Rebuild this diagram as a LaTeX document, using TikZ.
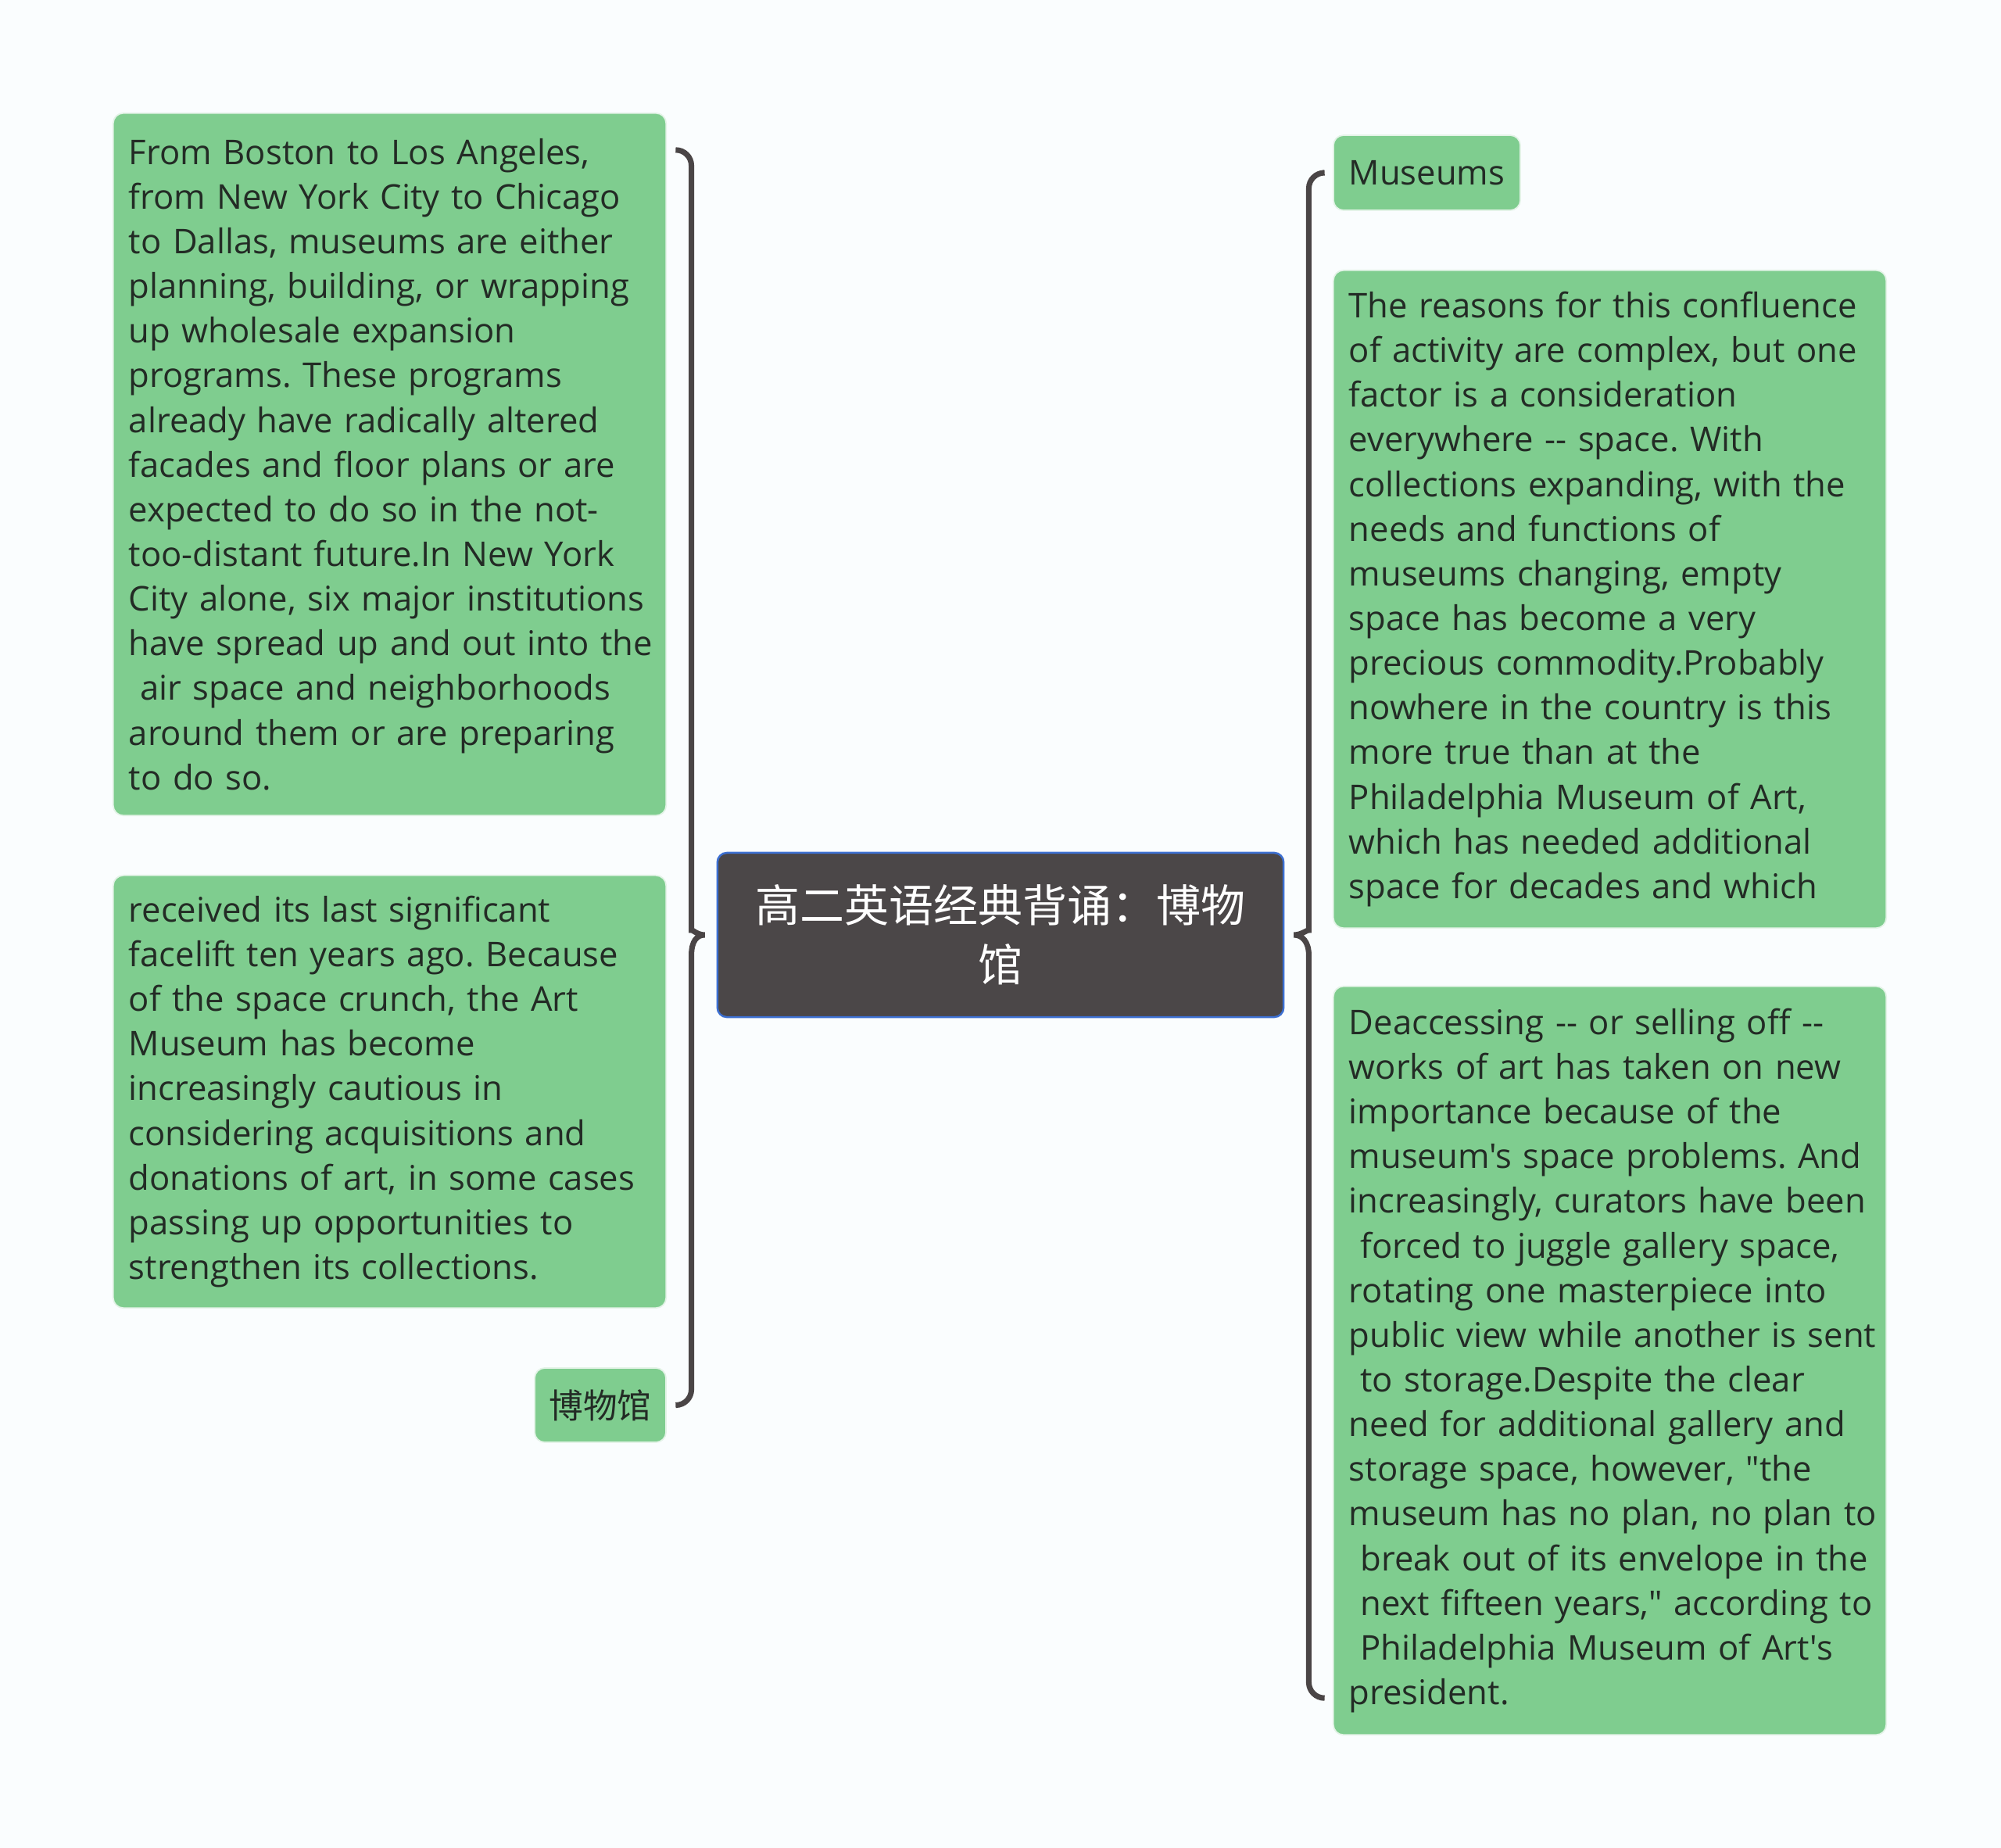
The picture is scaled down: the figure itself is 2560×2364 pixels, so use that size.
\documentclass[tikz,border=0pt]{standalone}
\usepackage{fontspec}
\setmainfont{Open Sans}[Ligatures=TeXOff]
\newfontfamily\cjk{Noto Sans CJK SC}
\usetikzlibrary{calc}
\definecolor{bg}{HTML}{FAFDFE}
\definecolor{boxgreen}{HTML}{7FCD8F}
\definecolor{boxedge}{HTML}{E3F3E7}
\definecolor{txt}{HTML}{232B25}
\definecolor{centerfill}{HTML}{4B4748}
\definecolor{centeredge}{HTML}{3C6FD1}
\definecolor{bracecol}{HTML}{4A4546}
\newcommand\dq{\symbol{34}}
\newcommand\sq{\symbol{39}}
\frenchspacing
\tikzset{
  gbox/.style={rectangle, rounded corners=0.13cm, fill=boxgreen, draw=boxedge, line width=0.5pt,
    text=txt, inner xsep=0.2cm, inner ysep=0pt, align=left,
    font=\fontsize{12.4pt}{16.25pt}\selectfont\frenchspacing},
  bigbox/.style={gbox, text width=6.67cm, minimum width=7.07cm},
  smallbox/.style={gbox, align=center, inner xsep=0pt},
  centerbox/.style={rectangle, rounded corners=0.12cm, fill=centerfill, draw=centeredge, line width=0.7pt,
    text=white, align=center, inner sep=0pt,
    font=\cjk\fontsize{16.2pt}{21.6pt}\selectfont},
  bracelink/.style={draw=bracecol, line width=2pt}
}
\begin{document}
\begin{tikzpicture}[x=0.01cm, y=-0.01cm]
\fill[bg] (0,0) rectangle (2560,2364);
\useasboundingbox (0,0) rectangle (2560,2364);

% center
\node[centerbox, minimum width=7.24cm, minimum height=2.10cm] (C) at (1280,1196)
  {高二英语经典背诵：博物\\馆};

% left column
\node[bigbox, minimum height=8.98cm] (L1) at (498.5,594) {%
\mbox{From Boston to Los Angeles,}\\
\mbox{from New York City to Chicago}\\
\mbox{to Dallas, museums are either}\\
\mbox{planning, building, or wrapping}\\
\mbox{up wholesale expansion}\\
\mbox{programs. These programs}\\
\mbox{already have radically altered}\\
\mbox{facades and floor plans or are}\\
\mbox{expected to do so in the not-}\\
\mbox{too-distant future.In New York}\\
\mbox{City alone, six major institutions}\\
\mbox{have spread up and out into the}\\
\mbox{\ air space and neighborhoods}\\
\mbox{around them or are preparing}\\
\mbox{to do so.}};

\node[bigbox, minimum height=5.53cm] (L2) at (498.5,1396.5) {%
\mbox{received its last significant}\\
\mbox{facelift ten years ago. Because}\\
\mbox{of the space crunch, the Art}\\
\mbox{Museum has become}\\
\mbox{increasingly cautious in}\\
\mbox{considering acquisitions and}\\
\mbox{donations of art, in some cases}\\
\mbox{passing up opportunities to}\\
\mbox{strengthen its collections.}};

\node[smallbox, minimum width=1.68cm, minimum height=0.95cm, font=\cjk\fontsize{12.4pt}{16.25pt}\selectfont] (L3) at (768,1797.5) {博物馆};

% right column
\node[smallbox, minimum width=2.39cm, minimum height=0.96cm] (R1) at (1825.5,221) {Museums};

\node[bigbox, minimum height=8.41cm] (R2) at (2059.5,766.5) {%
\mbox{The reasons for this confluence}\\
\mbox{of activity are complex, but one}\\
\mbox{factor is a consideration}\\
\mbox{everywhere -- space. With}\\
\mbox{collections expanding, with the}\\
\mbox{needs and functions of}\\
\mbox{museums changing, empty}\\
\mbox{space has become a very}\\
\mbox{precious commodity.Probably}\\
\mbox{nowhere in the country is this}\\
\mbox{more true than at the}\\
\mbox{Philadelphia Museum of Art,}\\
\mbox{which has needed additional}\\
\mbox{space for decades and which}};

\node[bigbox, minimum height=9.57cm] (R3) at (2059.5,1740.5) {%
\mbox{Deaccessing -- or selling off --}\\
\mbox{works of art has taken on new}\\
\mbox{importance because of the}\\
\mbox{museum\sq s space problems. And}\\
\mbox{increasingly, curators have been}\\
\mbox{\ forced to juggle gallery space,}\\
\mbox{rotating one masterpiece into}\\
\mbox{public view while another is sent}\\
\mbox{\ to storage.Despite the clear}\\
\mbox{need for additional gallery and}\\
\mbox{storage space, however, \dq the}\\
\mbox{museum has no plan, no plan to}\\
\mbox{\ break out of its envelope in the}\\
\mbox{\ next fifteen years,\dq\ according to}\\
\mbox{\ Philadelphia Museum of Art\sq s}\\
\mbox{president.}};

% left brace
\coordinate (lt) at ($(L1.north east)+(13,48)$);
\coordinate (lb) at ($(L3.east)+(13,0)$);
\coordinate (lv) at ($(C.west)+(-32,0)$);
\coordinate (ltip) at ($(C.west)+(-15,0)$);
\draw[bracelink] (lt) [rounded corners=0.2cm] -- (lt -| lv) -- ($(lv)+(0,-26)$) [sharp corners]
  .. controls ($(lv)+(0,-8)$) and ($(ltip)+(-10,0)$) .. (ltip)
  .. controls ($(ltip)+(-10,0)$) and ($(lv)+(0,8)$) .. ($(lv)+(0,26)$)
  [rounded corners=0.2cm] -- (lb -| lv) -- (lb);

% right brace
\coordinate (rt) at ($(R1.west)+(-13,0)$);
\coordinate (rb) at ($(R3.south west)+(-13,-48)$);
\coordinate (rv) at ($(C.east)+(31,0)$);
\coordinate (rtip) at ($(C.east)+(12,0)$);
\draw[bracelink] (rt) [rounded corners=0.2cm] -- (rt -| rv) -- ($(rv)+(0,-26)$) [sharp corners]
  .. controls ($(rv)+(0,-8)$) and ($(rtip)+(10,0)$) .. (rtip)
  .. controls ($(rtip)+(10,0)$) and ($(rv)+(0,8)$) .. ($(rv)+(0,26)$)
  [rounded corners=0.2cm] -- (rb -| rv) -- (rb);
\end{tikzpicture}
\end{document}
